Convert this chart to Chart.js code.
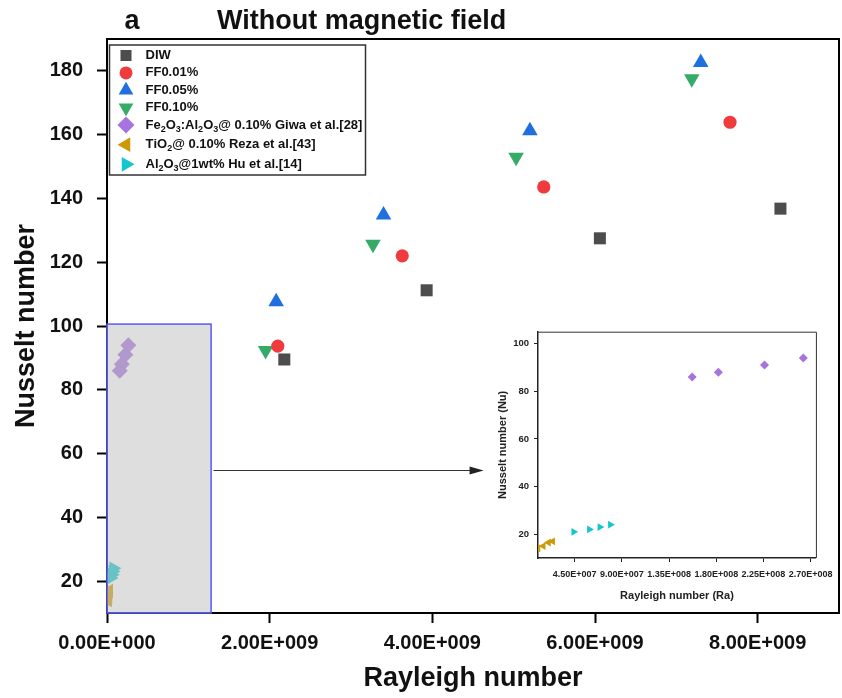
<!DOCTYPE html>
<html>
<head>
<meta charset="utf-8">
<title>Nusselt vs Rayleigh</title>
<script src="https://cdn.jsdelivr.net/npm/chart.js@4.4.1/dist/chart.umd.min.js"></script>
<style>
  body { margin: 0; background: #fff; }
  #wrap { position: relative; width: 842px; height: 698px; }
  #main { position: absolute; left: 0; top: 0; }
  #inset { position: absolute; left: 490px; top: 321px; }
</style>
</head>
<body>
<div id="wrap">
  <canvas id="main" width="842" height="698"></canvas>
  <canvas id="inset" width="350" height="291"></canvas>
</div>
<script>
// Rayleigh number (Ra) and Nusselt number (Nu) for each series
const diwRa = [2.18e9, 3.93e9, 6.06e9, 8.28e9];
const diwNu = [89.5, 111.2, 127.5, 136.8];
const ff001Ra = [2.10e9, 3.63e9, 5.37e9, 7.66e9];
const ff001Nu = [93.7, 122.0, 143.6, 163.9];
const ff005Ra = [2.08e9, 3.40e9, 5.20e9, 7.30e9];
const ff005Nu = [107.6, 134.8, 161.2, 182.6];
const ff010Ra = [1.95e9, 3.27e9, 5.03e9, 7.19e9];
const ff010Nu = [92.3, 125.6, 152.9, 177.5];
const giwaRa = [1.57e8, 1.82e8, 2.26e8, 2.63e8];
const giwaNu = [86, 88, 91, 94];
const rezaRa = [1.0e7, 1.5e7, 2.0e7, 2.4e7];
const rezaNu = [14, 15, 16.5, 17];
const huRa = [4.4e7, 5.9e7, 6.9e7, 7.9e7];
const huNu = [21, 22, 23, 24];

// axis ticks
const raTicks = [0, 2e9, 4e9, 6e9, 8e9];
const nuTicks = [20, 40, 60, 80, 100, 120, 140, 160, 180];
const insetRaTicks = [4.5e7, 9.0e7, 1.35e8, 1.8e8, 2.25e8, 2.7e8];
const insetNuTicks = [20, 40, 60, 80, 100];

// zoomed region of the main plot and the arrow pointing to the inset
const zoomBox = { ra0: 0, ra1: 1.28e9, nu0: 10, nu1: 100.6 };
const arrowLine = { ra0: 1.31e9, ra1: 4.63e9, nu: 55 };

const FONT = "'Liberation Sans', Arial, sans-serif";

function pts(xs, ys) {
  return xs.map((x, i) => ({ x: x, y: ys[i] }));
}

// 2.00E+009 style labels
function sciLabel(v) {
  const parts = Number(v).toExponential(2).split('e');
  const e = parseInt(parts[1], 10);
  return parts[0] + 'E' + (e < 0 ? '-' : '+') + String(Math.abs(e)).padStart(3, '0');
}

const series = [
  { label: 'DIW', ra: diwRa, nu: diwNu, color: '#4d4d4d', style: 'rect', rot: 0, r: 8.5, lr: 7.8, inset: false },
  { label: 'FF0.01%', ra: ff001Ra, nu: ff001Nu, color: '#ef3b3e', style: 'circle', rot: 0, r: 6.6, lr: 6.5, inset: false },
  { label: 'FF0.05%', ra: ff005Ra, nu: ff005Nu, color: '#1f6fe0', style: 'triangle', rot: 0, r: 9, lr: 8.5, inset: false },
  { label: 'FF0.10%', ra: ff010Ra, nu: ff010Nu, color: '#35ab68', style: 'triangle', rot: 180, r: 9, lr: 8.5, inset: false },
  { label: 'Fe_2O_3:Al_2O_3@ 0.10% Giwa et al.[28]', ra: giwaRa, nu: giwaNu, color: '#a674dc', style: 'rectRot', rot: 0, r: 8, lr: 8.5, inset: true },
  { label: 'TiO_2@ 0.10% Reza et al.[43]', ra: rezaRa, nu: rezaNu, color: '#cc9a06', style: 'triangle', rot: 270, r: 8, lr: 8.5, inset: true },
  { label: 'Al_2O_3@1wt% Hu et al.[14]', ra: huRa, nu: huNu, color: '#14c6cc', style: 'triangle', rot: 90, r: 8, lr: 8.5, inset: true }
];

function makeDataset(s, radius) {
  return {
    label: s.label,
    data: pts(s.ra, s.nu),
    pointStyle: s.style,
    pointRotation: s.rot,
    pointRadius: radius,
    pointBackgroundColor: s.color,
    pointBorderWidth: 0,
    backgroundColor: s.color,
    borderColor: s.color,
    clip: 0
  };
}

// draws text where "_x" puts x as a subscript
function drawRichText(ctx, text, x, y, size) {
  let cx = x;
  for (let i = 0; i < text.length; i++) {
    let ch = text[i];
    let sub = false;
    if (ch === '_' && i + 1 < text.length) { ch = text[++i]; sub = true; }
    ctx.font = 'bold ' + (sub ? size - 4 : size) + 'px ' + FONT;
    ctx.fillText(ch, cx, sub ? y + 4 : y);
    cx += ctx.measureText(ch).width;
  }
}

const mainDecor = {
  id: 'mainDecor',
  afterDatasetsDraw(chart) {
    const { ctx, scales: { x, y } } = chart;
    // shaded zoom region
    const bx0 = x.getPixelForValue(zoomBox.ra0), bx1 = x.getPixelForValue(zoomBox.ra1);
    const by0 = y.getPixelForValue(zoomBox.nu1), by1 = y.getPixelForValue(zoomBox.nu0);
    ctx.save();
    ctx.fillStyle = 'rgba(190,190,190,0.5)';
    ctx.fillRect(bx0, by0, bx1 - bx0, by1 - by0);
    ctx.strokeStyle = '#5a5af2';
    ctx.lineWidth = 1.5;
    ctx.strokeRect(bx0, by0, bx1 - bx0, by1 - by0);

    // arrow to the inset
    const ax0 = x.getPixelForValue(arrowLine.ra0), ax1 = x.getPixelForValue(arrowLine.ra1);
    const ay = Math.round(y.getPixelForValue(arrowLine.nu)) + 0.5;
    ctx.strokeStyle = '#333';
    ctx.lineWidth = 1;
    ctx.beginPath();
    ctx.moveTo(ax0, ay);
    ctx.lineTo(ax1 - 12, ay);
    ctx.stroke();
    ctx.fillStyle = '#222';
    ctx.beginPath();
    ctx.moveTo(ax1, ay);
    ctx.lineTo(ax1 - 14, ay - 4);
    ctx.lineTo(ax1 - 14, ay + 4);
    ctx.closePath();
    ctx.fill();
    ctx.restore();
  },
  afterDraw(chart) {
    const { ctx, chartArea: a } = chart;
    ctx.save();
    // top and right frame
    ctx.strokeStyle = '#000';
    ctx.lineWidth = 2;
    ctx.beginPath();
    ctx.moveTo(a.left, a.top);
    ctx.lineTo(a.right, a.top);
    ctx.lineTo(a.right, a.bottom);
    ctx.stroke();

    // heading
    ctx.fillStyle = '#111';
    ctx.textBaseline = 'middle';
    ctx.font = 'bold 27px ' + FONT;
    ctx.fillText('a', 124.5, 21.5);
    ctx.fillText('Without magnetic field', 217, 21.5);

    // legend
    ctx.lineWidth = 1.5;
    ctx.strokeStyle = '#333';
    ctx.fillStyle = '#fff';
    ctx.fillRect(109.5, 45, 256, 130);
    ctx.strokeRect(109.5, 45, 256, 130);
    let rowY = 55.5;
    chart.data.datasets.forEach((ds, i) => {
      const s = series[i];
      ctx.fillStyle = s.color;
      Chart.helpers.drawPoint(ctx, { pointStyle: s.style, rotation: s.rot, radius: s.lr, borderWidth: 0 }, 126, rowY);
      ctx.fillStyle = '#111';
      ctx.textBaseline = 'middle';
      drawRichText(ctx, ds.label, 145.5, rowY, 13);
      rowY += 17.4 + (ds.label.indexOf('_') >= 0 ? 2.2 : 0);
    });
    ctx.restore();
  }
};

const insetFrame = {
  id: 'insetFrame',
  afterDraw(chart) {
    const { ctx, chartArea: a } = chart;
    ctx.save();
    ctx.strokeStyle = '#333';
    ctx.lineWidth = 1;
    ctx.beginPath();
    ctx.moveTo(a.left, a.top + 0.5);
    ctx.lineTo(a.right + 0.5, a.top + 0.5);
    ctx.lineTo(a.right + 0.5, a.bottom);
    ctx.stroke();
    ctx.restore();
  }
};

new Chart(document.getElementById('main'), {
  type: 'scatter',
  data: { datasets: series.map(s => makeDataset(s, s.r)) },
  options: {
    responsive: false,
    animation: false,
    devicePixelRatio: 1,
    events: [],
    layout: { autoPadding: false, padding: { top: 39, right: 3, left: 0, bottom: 0 } },
    plugins: { legend: { display: false }, tooltip: { enabled: false } },
    scales: {
      x: {
        type: 'linear',
        min: 0,
        max: 9e9,
        afterBuildTicks: s => { s.ticks = raTicks.map(v => ({ value: v })); },
        afterFit: s => { s.height = 85; },
        grid: { display: true, drawOnChartArea: false, drawTicks: true, tickLength: 10, tickWidth: 2, tickColor: '#000', color: '#000' },
        border: { display: true, color: '#000', width: 2 },
        ticks: {
          callback: v => sciLabel(v),
          font: { family: FONT, size: 20, weight: 'bold' },
          color: '#111',
          padding: 8,
          maxRotation: 0,
          autoSkip: false
        },
        title: {
          display: true,
          text: 'Rayleigh number',
          font: { family: FONT, size: 27, weight: 'bold' },
          color: '#111',
          padding: { top: 0, bottom: 3 }
        }
      },
      y: {
        type: 'linear',
        min: 10,
        max: 190,
        afterBuildTicks: s => { s.ticks = nuTicks.map(v => ({ value: v })); },
        afterFit: s => { s.width = 107; },
        grid: { display: true, drawOnChartArea: false, drawTicks: true, tickLength: 10, tickWidth: 2, tickColor: '#000', color: '#000' },
        border: { display: true, color: '#000', width: 2 },
        ticks: {
          font: { family: FONT, size: 20, weight: 'bold' },
          color: '#111',
          padding: 14
        },
        title: {
          display: true,
          text: 'Nusselt number',
          font: { family: FONT, size: 27, weight: 'bold' },
          color: '#111',
          padding: { top: 10, bottom: 0 }
        }
      }
    }
  },
  plugins: [mainDecor]
});

new Chart(document.getElementById('inset'), {
  type: 'scatter',
  data: { datasets: series.filter(s => s.inset).map(s => makeDataset(s, 4.5)) },
  options: {
    responsive: false,
    animation: false,
    devicePixelRatio: 1,
    events: [],
    layout: { autoPadding: false, padding: { top: 8, right: 23, left: 0, bottom: 0 } },
    plugins: { legend: { display: false }, tooltip: { enabled: false } },
    scales: {
      x: {
        type: 'linear',
        min: 1e7,
        max: 2.75e8,
        afterBuildTicks: s => { s.ticks = insetRaTicks.map(v => ({ value: v })); },
        afterFit: s => { s.height = 54; },
        grid: { display: true, drawOnChartArea: false, drawTicks: true, tickLength: 4, tickWidth: 1, tickColor: '#222', color: '#222' },
        border: { display: true, color: '#222', width: 1.5 },
        ticks: {
          callback: v => sciLabel(v),
          font: { family: FONT, size: 9, weight: 'bold' },
          color: '#222',
          padding: 7,
          maxRotation: 0,
          autoSkip: false
        },
        title: {
          display: true,
          text: 'Rayleigh number (Ra)',
          font: { family: FONT, size: 11, weight: 'bold' },
          color: '#222',
          padding: { top: 0, bottom: 9 }
        }
      },
      y: {
        type: 'linear',
        min: 10,
        max: 105,
        afterBuildTicks: s => { s.ticks = insetNuTicks.map(v => ({ value: v })); },
        afterFit: s => { s.width = 48; },
        grid: { display: true, drawOnChartArea: false, drawTicks: true, tickLength: 4, tickWidth: 1, tickColor: '#222', color: '#222' },
        border: { display: true, color: '#222', width: 1.5 },
        ticks: {
          font: { family: FONT, size: 9.5, weight: 'bold' },
          color: '#222',
          padding: 5
        },
        title: {
          display: true,
          text: 'Nusselt number (Nu)',
          font: { family: FONT, size: 11, weight: 'bold' },
          color: '#222',
          padding: { top: 6, bottom: 0 }
        }
      }
    }
  },
  plugins: [insetFrame]
});
</script>
</body>
</html>
